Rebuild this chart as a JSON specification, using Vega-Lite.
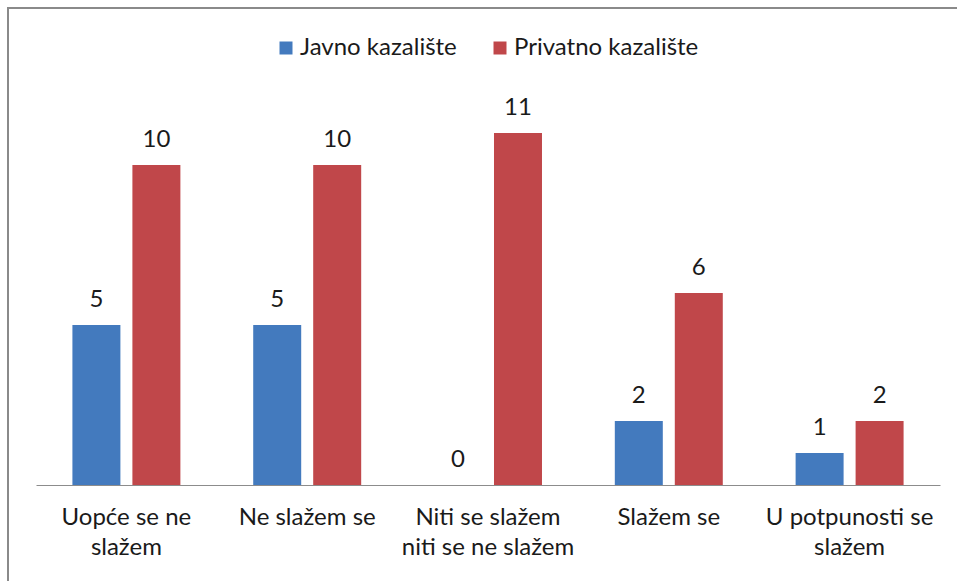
{
  "$schema": "https://vega.github.io/schema/vega-lite/v6.json",
  "width": 951,
  "height": 575,
  "padding": {"left": 8, "top": 8, "right": 0, "bottom": 0},
  "autosize": {"type": "none"},
  "config": {
    "view": {"stroke": "#8a8a8a", "strokeWidth": 2},
    "font": "Lato",
    "text": {"font": "Lato"}
  },
  "data": {
    "values": [
      {"odgovor": "Uopće se ne slažem", "kazaliste": "Javno kazalište", "broj": 5},
      {"odgovor": "Uopće se ne slažem", "kazaliste": "Privatno kazalište", "broj": 10},
      {"odgovor": "Ne slažem se", "kazaliste": "Javno kazalište", "broj": 5},
      {"odgovor": "Ne slažem se", "kazaliste": "Privatno kazalište", "broj": 10},
      {"odgovor": "Niti se slažem niti se ne slažem", "kazaliste": "Javno kazalište", "broj": 0},
      {"odgovor": "Niti se slažem niti se ne slažem", "kazaliste": "Privatno kazalište", "broj": 11},
      {"odgovor": "Slažem se", "kazaliste": "Javno kazalište", "broj": 2},
      {"odgovor": "Slažem se", "kazaliste": "Privatno kazalište", "broj": 6},
      {"odgovor": "U potpunosti se slažem", "kazaliste": "Javno kazalište", "broj": 1},
      {"odgovor": "U potpunosti se slažem", "kazaliste": "Privatno kazalište", "broj": 2}
    ]
  },
  "encoding": {
    "x": {
      "field": "odgovor",
      "type": "nominal",
      "sort": null,
      "scale": {"range": [28, 932], "paddingInner": 0, "paddingOuter": 0},
      "axis": {
        "title": null,
        "orient": "bottom",
        "offset": -98,
        "ticks": false,
        "domainColor": "#8c8c8c",
        "domainWidth": 1,
        "labelAngle": 0,
        "labelFont": "Lato",
        "labelFontSize": 24,
        "labelColor": "#1a1a1a",
        "labelPadding": 20,
        "labelLineHeight": 30,
        "labelBaseline": "top",
        "labelLimit": 300,
        "labelExpr": "datum.value == 'Uopće se ne slažem' ? ['Uopće se ne', 'slažem'] : datum.value == 'Niti se slažem niti se ne slažem' ? ['Niti se slažem', 'niti se ne slažem'] : datum.value == 'U potpunosti se slažem' ? ['U potpunosti se', 'slažem'] : datum.value"
      }
    },
    "xOffset": {
      "field": "kazaliste",
      "type": "nominal",
      "sort": null,
      "scale": {"paddingInner": 0.2, "paddingOuter": 0.607}
    },
    "y": {
      "field": "broj",
      "type": "quantitative",
      "scale": {"domain": [0, 12], "range": [477, 93]},
      "axis": null
    }
  },
  "layer": [
    {
      "mark": {"type": "bar"},
      "encoding": {
        "color": {
          "field": "kazaliste",
          "type": "nominal",
          "sort": null,
          "scale": {"range": ["#437abe", "#c0474a"]},
          "legend": {
            "title": null,
            "orient": "none",
            "direction": "horizontal",
            "legendX": 266,
            "legendY": 28,
            "padding": 0,
            "symbolType": "square",
            "symbolSize": 169,
            "symbolStrokeWidth": 0,
            "symbolOpacity": 1,
            "labelFont": "Lato",
            "labelFontSize": 24,
            "labelLimit": 300,
            "labelColor": "#1a1a1a",
            "labelOffset": 2,
            "columnPadding": 31
          }
        }
      }
    },
    {
      "mark": {"type": "text", "baseline": "alphabetic", "dy": -18, "fontSize": 24, "color": "#1a1a1a"},
      "encoding": {"text": {"field": "broj", "type": "quantitative"}}
    }
  ]
}
